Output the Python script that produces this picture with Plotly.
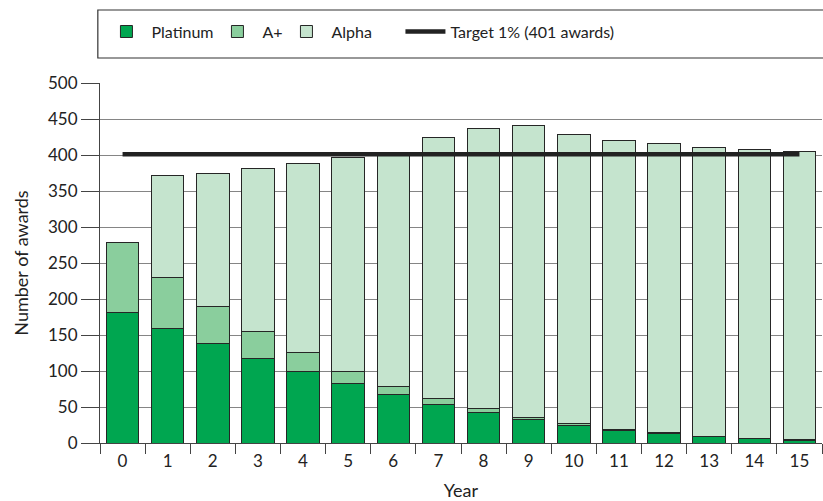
import plotly.graph_objects as go

years = [str(i) for i in range(16)]
platinum = [181, 159, 138, 118, 99, 82, 67, 54, 43, 33, 25, 18, 13, 9, 6, 4]
a_plus = [98, 71, 52, 37, 27, 18, 11, 8, 5, 3, 2, 1, 1, 0.5, 0.5, 0.3]
totals = [279, 372, 375, 381, 388, 396, 402, 424, 437, 441, 429, 420, 416, 410, 407, 405]
alpha = [t - p - a for t, p, a in zip(totals, platinum, a_plus)]
target = [401] * 16

FONT = "Lato"
outline = dict(color="#262626", width=1)

fig = go.Figure()
fig.add_trace(go.Bar(x=years, y=platinum, name="Platinum",
                     marker=dict(color="rgb(0,166,80)", line=outline), legendwidth=56))
fig.add_trace(go.Bar(x=years, y=a_plus, name="A+",
                     marker=dict(color="rgb(138,206,157)", line=outline), legendwidth=14))
fig.add_trace(go.Bar(x=years, y=alpha, name="Alpha",
                     marker=dict(color="rgb(197,228,206)", line=outline), legendwidth=64))
fig.add_trace(go.Scatter(x=years, y=target, name="Target 1% (401 awards)", mode="lines",
                         line=dict(color="#222222", width=4.5), legendwidth=160))

fig.update_layout(
    width=823, height=501,
    barmode="stack", bargap=0.28,
    plot_bgcolor="white", paper_bgcolor="white",
    margin=dict(l=100, r=1, t=83, b=58),
    font=dict(family=FONT, size=16, color="#222222"),
    legend=dict(orientation="h", x=0.002, xanchor="left", y=1.19, yanchor="top",
                borderwidth=0, bgcolor="rgba(0,0,0,0)",
                font=dict(size=16), itemwidth=40, traceorder="normal"),
    showlegend=True,
    shapes=[dict(type="rect", xref="paper", yref="paper", x0=-0.003, x1=1.02,
                 y0=1 + (83 - 58) / 360, y1=1 + (83 - 10) / 360,
                 line=dict(color="#333333", width=1.2), fillcolor="rgba(0,0,0,0)", layer="above")],
)
fig.update_yaxes(range=[0, 500], dtick=50, ticks="outside", ticklen=18, tickcolor="#444444",
                 showgrid=True, gridcolor="#858585", gridwidth=1.2,
                 showline=True, linecolor="#444444", linewidth=1,
                 title=dict(text="Number of awards", font=dict(size=18), standoff=14),
                 tickfont=dict(size=17), zeroline=False)
fig.update_xaxes(type="category", tickson="boundaries", ticks="outside", ticklen=10,
                 tickcolor="#444444", showline=True, linecolor="#444444", linewidth=1,
                 showgrid=False, range=[-0.5, 15.5], ticklabelstandoff=3,
                 title=dict(text="Year", font=dict(size=18), standoff=15),
                 tickfont=dict(size=17))

fig.write_html("out.html", config={"displayModeBar": False},
               post_script="document.body.style.margin='0';document.body.style.overflow='hidden';")
